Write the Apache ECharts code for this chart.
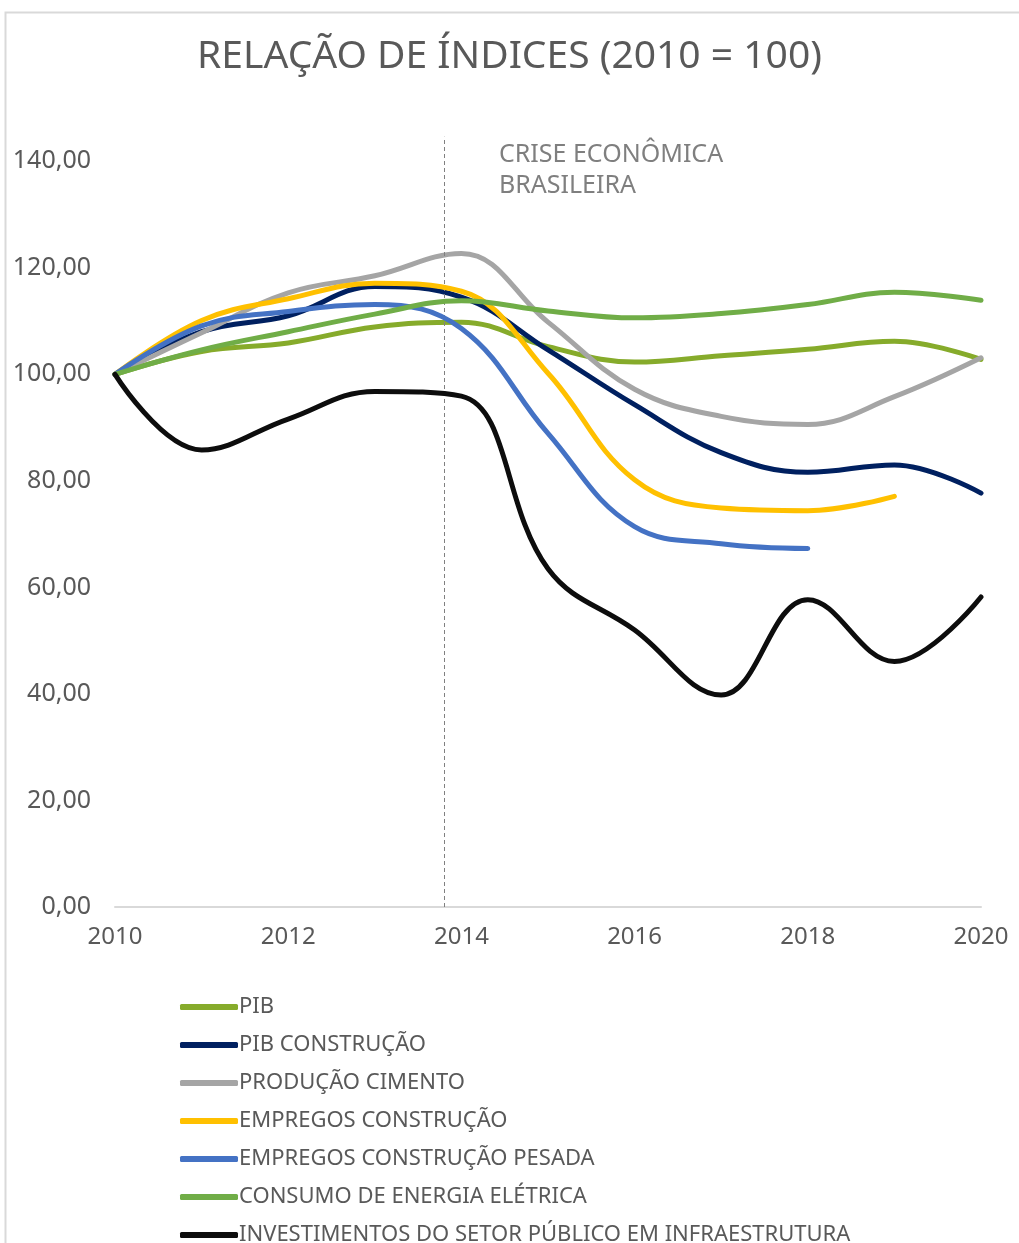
<!DOCTYPE html>
<html>
<head>
<meta charset="utf-8">
<script src="https://cdn.jsdelivr.net/npm/echarts@6/dist/echarts.min.js"></script>
<style>
  html, body { margin: 0; padding: 0; background: #fff; }
  #chart { width: 1019px; height: 1243px; }
</style>
</head>
<body>
<div id="chart"></div>
<script>
// dados (índice, 2010 = 100)
const years = [2010, 2011, 2012, 2013, 2014, 2015, 2016, 2017, 2018, 2019, 2020];
const pib = [100, 104.3, 105.9, 108.9, 109.8, 105.2, 102.3, 103.5, 104.7, 106.2, 102.8];
const pibConstrucao = [100, 108.0, 111.0, 116.5, 114.5, 104.6, 94.3, 85.3, 81.6, 83.0, 77.7];
const producaoCimento = [100, 107.8, 115.3, 118.5, 122.7, 109.8, 97.2, 92.1, 90.6, 95.8, 103.1];
const empregosConstrucao = [100, 110.1, 114.2, 117.1, 115.6, 100.2, 80.2, 74.9, 74.4, 77.1, null];
const empregosPesada = [100, 109.1, 111.8, 113.1, 108.6, 88.9, 71.4, 68.2, 67.3, null, null];
const consumoEnergia = [100, 104.6, 108.0, 111.3, 113.8, 111.9, 110.6, 111.4, 113.1, 115.4, 113.9];
const investimentos = [100, 85.8, 91.6, 96.8, 95.9, 63.5, 52.0, 39.8, 57.7, 46.1, 58.2];
const yTicks = [0, 20, 40, 60, 80, 100, 120, 140];
const crisisYear = 2013.8;

const font = '"Noto Sans", sans-serif';
const textGray = '#595959';

const seriesDefs = [
  { name: 'PIB', data: pib, color: '#86AB2B' },
  { name: 'PIB CONSTRUÇÃO', data: pibConstrucao, color: '#002060' },
  { name: 'PRODUÇÃO CIMENTO', data: producaoCimento, color: '#A5A5A5' },
  { name: 'EMPREGOS CONSTRUÇÃO', data: empregosConstrucao, color: '#FFC000' },
  { name: 'EMPREGOS CONSTRUÇÃO PESADA', data: empregosPesada, color: '#4472C4' },
  { name: 'CONSUMO DE ENERGIA ELÉTRICA', data: consumoEnergia, color: '#70AD47' },
  { name: 'INVESTIMENTOS DO SETOR PÚBLICO EM INFRAESTRUTURA', data: investimentos, color: '#0D0D0D' }
];

const series = seriesDefs.map(function (s, i) {
  const item = {
    name: s.name,
    type: 'line',
    smooth: 0.4,
    symbol: 'none',
    data: years.map(function (y, k) { return s.data[k] == null ? null : [y, s.data[k]]; }).filter(Boolean),
    itemStyle: { color: s.color },
    lineStyle: { color: s.color, width: 5, cap: 'round', join: 'round' },
    z: 2 + i
  };
  if (i === 0) {
    item.markLine = {
      silent: true,
      symbol: 'none',
      label: { show: false },
      lineStyle: { color: '#808080', width: 1, type: [4, 3] },
      data: [[{ coord: [crisisYear, 0] }, { coord: [crisisYear, 144.6] }]]
    };
  }
  return item;
});

const chart = echarts.init(document.getElementById('chart'));
chart.setOption({
  animation: false,
  backgroundColor: '#fff',
  textStyle: { fontFamily: font },
  title: {
    text: 'RELAÇÃO DE ÍNDICES (2010 = 100)',
    left: 'center',
    top: 32,
    textStyle: { fontFamily: font, fontSize: 39, fontWeight: 'normal', color: textGray }
  },
  graphic: [
    {
      type: 'rect',
      silent: true,
      shape: { x: 5.5, y: 12.5, width: 1200, height: 1400 },
      style: { fill: 'none', stroke: '#D9D9D9', lineWidth: 2 }
    },
    {
      type: 'text',
      left: 499,
      top: 139,
      silent: true,
      style: {
        text: 'CRISE ECONÔMICA\nBRASILEIRA',
        font: '25px ' + font,
        fill: '#7F7F7F',
        lineHeight: 31
      }
    }
  ],
  grid: { left: 115, right: 38, top: 108, bottom: 336, containLabel: false },
  xAxis: {
    type: 'value',
    min: 2010,
    max: 2020,
    interval: 2,
    axisLine: { show: true, lineStyle: { color: '#D9D9D9', width: 2 } },
    axisTick: { show: false },
    splitLine: { show: false },
    axisLabel: {
      color: textGray,
      fontSize: 24,
      margin: 18,
      formatter: function (v) { return String(v); }
    }
  },
  yAxis: {
    type: 'value',
    min: yTicks[0],
    max: 150,
    interval: yTicks[1] - yTicks[0],
    axisLine: { show: false },
    axisTick: { show: false },
    splitLine: { show: false },
    axisLabel: {
      color: textGray,
      fontSize: 25,
      margin: 24,
      showMaxLabel: false,
      formatter: function (v) { return yTicks.indexOf(v) >= 0 ? v.toFixed(2).replace('.', ',') : ''; }
    }
  },
  legend: {
    orient: 'vertical',
    left: 175,
    top: 991,
    height: 400,
    icon: 'roundRect',
    itemWidth: 58,
    itemHeight: 6,
    itemGap: 16,
    textStyle: { color: textGray, fontSize: 22, fontFamily: font, padding: [0, 0, 0, -4] },
    data: seriesDefs.map(function (s) { return s.name; })
  },
  series: series
});
</script>
</body>
</html>
